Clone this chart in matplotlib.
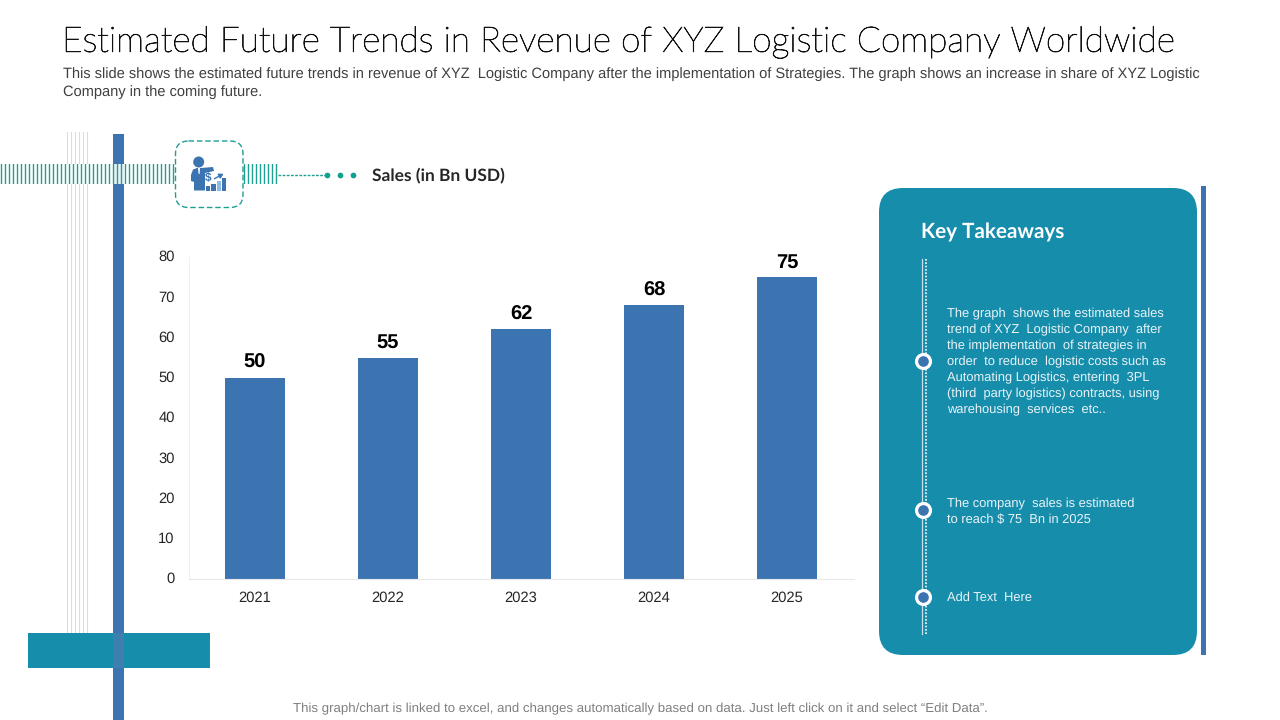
import matplotlib
matplotlib.use("Agg")
import matplotlib.pyplot as plt
import matplotlib.patches as patches
import matplotlib.patheffects as pe
from matplotlib.transforms import ScaledTranslation

plt.rcParams['font.family'] = ['Liberation Sans', 'DejaVu Sans']
plt.rcParams['text.hinting'] = 'no_hinting'

# DATA
years = ['2021', '2022', '2023', '2024', '2025']
sales = [50, 55, 62, 68, 75]
y_ticks = [0, 10, 20, 30, 40, 50, 60, 70, 80]

title = 'Estimated Future Trends in Revenue of XYZ Logistic Company Worldwide'
sub_1 = 'This slide shows the estimated future trends in revenue of XYZ  Logistic Company after the implementation of Strategies. The graph shows an increase in share of XYZ Logistic'
sub_2 = 'Company in the coming future.'
note = 'This graph/chart is linked to excel, and changes automatically based on data. Just left click on it and select \u201cEdit Data\u201d.'
takeaway_1 = ['The graph  shows the estimated sales', 'trend of XYZ  Logistic Company  after', 'the implementation  of strategies in',
              'order  to reduce  logistic costs such as', 'Automating Logistics, entering  3PL',
              '(third  party logistics) contracts, using', 'warehousing  services  etc..']
takeaway_2 = ['The company  sales is estimated', 'to reach $ 75  Bn in 2025']
takeaway_3 = ['Add Text  Here']

BLUE = '#3c74b2'
TEAL = '#178dac'
GREEN = '#1f9f92'
W, H = 1280, 720

fig = plt.figure(figsize=(12.8, 7.2), dpi=100, facecolor='white')

# background layer in pixel coords, y going down
bg = fig.add_axes([0, 0, 1, 1])
bg.set_xlim(0, W)
bg.set_ylim(H, 0)
bg.axis('off')

# grey thin lines behind the blue strip
for x in [66.5, 70.5, 74.5, 78.5, 82.5, 86.5]:
    bg.plot([x, x], [132, 633], color='#dcdcdc', lw=0.8, zorder=1)

# blue vertical strip
bg.add_patch(patches.Rectangle((113, 134), 11, 586, color=BLUE, lw=0, zorder=2))
# teal block, strip shows through
bg.add_patch(patches.Rectangle((28, 633), 182, 35, color=TEAL, lw=0, zorder=3))
bg.add_patch(patches.Rectangle((113, 633), 11, 35, color='#3f7fb0', lw=0, zorder=4))

# barcode band
bg.add_patch(patches.Rectangle((0, 164), 175, 20, color='white', alpha=0.9, lw=0, zorder=4))
for x in list(range(1, 175, 4)) + list(range(244, 279, 4)):
    bg.plot([x + 0.5, x + 0.5], [164, 184], color=GREEN, lw=1.0, solid_capstyle='butt', snap=False, zorder=5)

# dashed icon box
bg.add_patch(patches.FancyBboxPatch((175.5, 141), 67.5, 66.5, boxstyle='round,pad=0,rounding_size=13',
                                    fc='white', ec=GREEN, lw=1, ls=(0, (4, 2)), zorder=6))

# icon, person with small chart
bg.add_patch(patches.Circle((198.7, 162), 5.5, color=BLUE, lw=0, zorder=7))
bg.add_patch(patches.Polygon([(191, 175), (193, 169.5), (197, 168), (201, 168), (213, 167), (214, 171), (205, 173),
                              (205, 190.5), (194, 190.5), (194, 182), (191, 181)], color=BLUE, lw=0, zorder=7))
bg.add_patch(patches.Polygon([(198, 168), (200, 168), (199.6, 174), (198.6, 174)], color='white', lw=0, zorder=8))
bg.text(208.5, 178, '$', fontsize=8.5, color=BLUE, fontweight='bold', ha='center', va='center', zorder=8)
for x, top, c in [(206, 185.5, BLUE), (211.3, 184, BLUE), (216.6, 181, '#8fbce6'), (222, 178, BLUE)]:
    bg.add_patch(patches.Rectangle((x, top), 4.4, 191 - top, color=c, lw=0, zorder=7))
bg.annotate('', xy=(226, 172.5), xytext=(212, 180),
            arrowprops=dict(arrowstyle='-|>,head_width=0.15,head_length=0.25', color=BLUE, lw=1), zorder=7)

# connector and dots
bg.plot([278, 325], [174.5, 174.5], color=GREEN, lw=1, ls=(0, (2, 1)), zorder=5)
bg.scatter([327, 340, 353], [174.5, 174.5, 174.5], s=17, color='#12a08f', lw=0, zorder=5)
bg.text(372, 176, 'Sales (in Bn USD)', fontsize=12.5, fontweight='bold', family=['Lato'], color='#262626',
        ha='left', va='center')

# header
title_txt = bg.text(62, 42.5, title, fontsize=25.4, family=['Lato'], fontweight='light', color='#111111',
                    ha='left', va='center')
title_txt.set_path_effects([pe.withStroke(linewidth=0.55, foreground='#111111')])
bg.text(63, 74, sub_1, fontsize=10.52, color='#404040', ha='left', va='center')
bg.text(63, 92, sub_2, fontsize=10.52, color='#404040', ha='left', va='center')
bg.text(640.5, 709, note, fontsize=9.55, color='#7f7f7f', ha='center', va='center')

# key takeaways panel
bg.add_patch(patches.FancyBboxPatch((879, 188), 318, 467, boxstyle='round,pad=0,rounding_size=24',
                                    fc=TEAL, ec='none', zorder=2))
bg.add_patch(patches.Rectangle((1201, 186), 5, 469, color=BLUE, lw=0, zorder=2))
bg.text(921, 232, 'Key Takeaways', fontsize=14.9, fontweight='bold', family=['Lato'], color='white',
        ha='left', va='center', zorder=3)

bg.plot([921.5, 921.5], [259, 634], color='#c9dfe8', lw=0.9, zorder=3)
bg.plot([926, 926], [259, 634], color='white', lw=1.2, ls=(0, (1, 1)), zorder=3)
for y in [361, 510, 597]:
    bg.scatter([923.2], [y], s=100, color=BLUE, edgecolors='white', linewidths=2.3, zorder=4)

for lines, y0 in [(takeaway_1, 313.5), (takeaway_2, 503.5), (takeaway_3, 597.5)]:
    for i, line in enumerate(lines):
        bg.text(947, y0 + i * 16, line, fontsize=9.3, color='#e8f4f8', ha='left', va='center', zorder=4)

# bar chart
ax = fig.add_axes([188.5 / W, 1 - 579 / H, 665 / W, 322 / H])
ax.patch.set_alpha(0)
xs = list(range(len(years)))
bars = ax.bar(xs, sales, width=0.45, color=BLUE)
ax.set_xlim(-0.5, 4.5)
ax.set_ylim(0, 80)
ax.set_xticks(xs)
ax.set_xticklabels(years)
ax.set_yticks(y_ticks)
ax.tick_params(length=0, labelsize=10.6, labelcolor='#262626')
ax.tick_params(axis='x', pad=8.5)
ax.tick_params(axis='y', pad=10)
# y labels sit a little above their ticks in the reference
for lab in ax.get_yticklabels():
    lab.set_transform(lab.get_transform() + ScaledTranslation(0, 0.012, fig.dpi_scale_trans))
for s in ['top', 'right']:
    ax.spines[s].set_visible(False)
ax.spines['left'].set_color('#f0f0f0')
ax.spines['bottom'].set_color('#e8e8e8')
for b, v in zip(bars, sales):
    ax.annotate(str(v), (b.get_x() + b.get_width() / 2, v), xytext=(0, 4), textcoords='offset points',
                ha='center', va='bottom', fontsize=14.5, fontweight='bold', color='black')

fig.savefig('out.png', dpi=100)
